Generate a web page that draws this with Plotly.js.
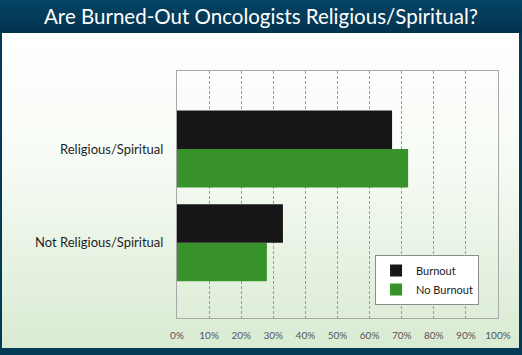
<!DOCTYPE html>
<html>
<head>
<meta charset="utf-8">
<script src="https://cdn.plot.ly/plotly-3.0.1.min.js"></script>
<style>
  html, body { margin: 0; padding: 0; }
  #frame { position: relative; width: 522px; height: 355px; background: #053a56; overflow: hidden; }
  #header { position: absolute; left: 0; top: 0; width: 522px; height: 33px;
            background: linear-gradient(#064466, #02334d); }
  #panel { position: absolute; left: 2px; top: 33px; width: 517px; height: 315px;
           background: linear-gradient(#ffffff 0%, #f7fbf5 40%, #d9ebd3 100%); }
  #chart { position: absolute; left: 0; top: 0; width: 522px; height: 355px; }
</style>
</head>
<body>
<div id="frame">
  <div id="header"></div>
  <div id="panel"></div>
  <div id="chart"></div>
</div>
<script>
var categories = ['Not Religious/Spiritual', 'Religious/Spiritual'];
var burnout = [33, 67];
var noBurnout = [28, 72];
var xTickValues = [0, 10, 20, 30, 40, 50, 60, 70, 80, 90, 100];
var xTickLabels = ['0%', '10%', '20%', '30%', '40%', '50%', '60%', '70%', '80%', '90%', '100%'];
var seriesNames = ['Burnout', 'No Burnout'];

var FONT = 'Lato, "Open Sans", sans-serif';

var traces = [
  {
    type: 'bar', orientation: 'h', name: seriesNames[1],
    y: categories, x: noBurnout,
    marker: { color: '#38922a', line: { width: 0 } },
    hoverinfo: 'x+y'
  },
  {
    type: 'bar', orientation: 'h', name: seriesNames[0],
    y: categories, x: burnout,
    marker: { color: '#161616', line: { width: 0 } },
    hoverinfo: 'x+y'
  }
];

var layout = {
  width: 522, height: 355,
  paper_bgcolor: 'rgba(0,0,0,0)',
  plot_bgcolor: 'rgba(0,0,0,0)',
  margin: { l: 177, r: 24, t: 71, b: 37 },
  barmode: 'group',
  bargap: 0.18,
  bargroupgap: 0,
  showlegend: true,
  title: {
    text: 'Are Burned-Out Oncologists Religious/Spiritual?',
    font: { family: FONT, size: 20.5, color: '#ffffff' },
    x: 0.5, xanchor: 'center', xref: 'container',
    y: 1 - 17 / 355, yanchor: 'middle', yref: 'container'
  },
  xaxis: {
    range: [0, 100],
    tickvals: xTickValues,
    ticktext: xTickLabels,
    showgrid: true,
    gridcolor: '#9a9a9a',
    griddash: '3px,2px',
    gridwidth: 1,
    zeroline: false,
    showline: true, mirror: true, linecolor: '#a8a8a8', linewidth: 1,
    ticks: '', ticklabelstandoff: 8,
    tickfont: { family: FONT, size: 10, color: '#555555' },
    fixedrange: true
  },
  yaxis: {
    type: 'category',
    range: [-0.8, 1.83],
    showgrid: false,
    zeroline: false,
    showline: true, mirror: true, linecolor: '#a8a8a8', linewidth: 1,
    ticks: '', ticklabelstandoff: 10,
    tickfont: { family: FONT, size: 13, color: '#1e1e1e' },
    fixedrange: true
  },
  legend: {
    traceorder: 'reversed',
    x: 0.617, xanchor: 'left',
    y: 0.255, yanchor: 'top',
    bgcolor: '#ffffff',
    bordercolor: '#8c8c8c', borderwidth: 1,
    font: { family: FONT, size: 11, color: '#222222' },
    tracegroupgap: 0,
    itemwidth: 30
  }
};

Plotly.newPlot('chart', traces, layout, { displayModeBar: false, staticPlot: true });
</script>
</body>
</html>
